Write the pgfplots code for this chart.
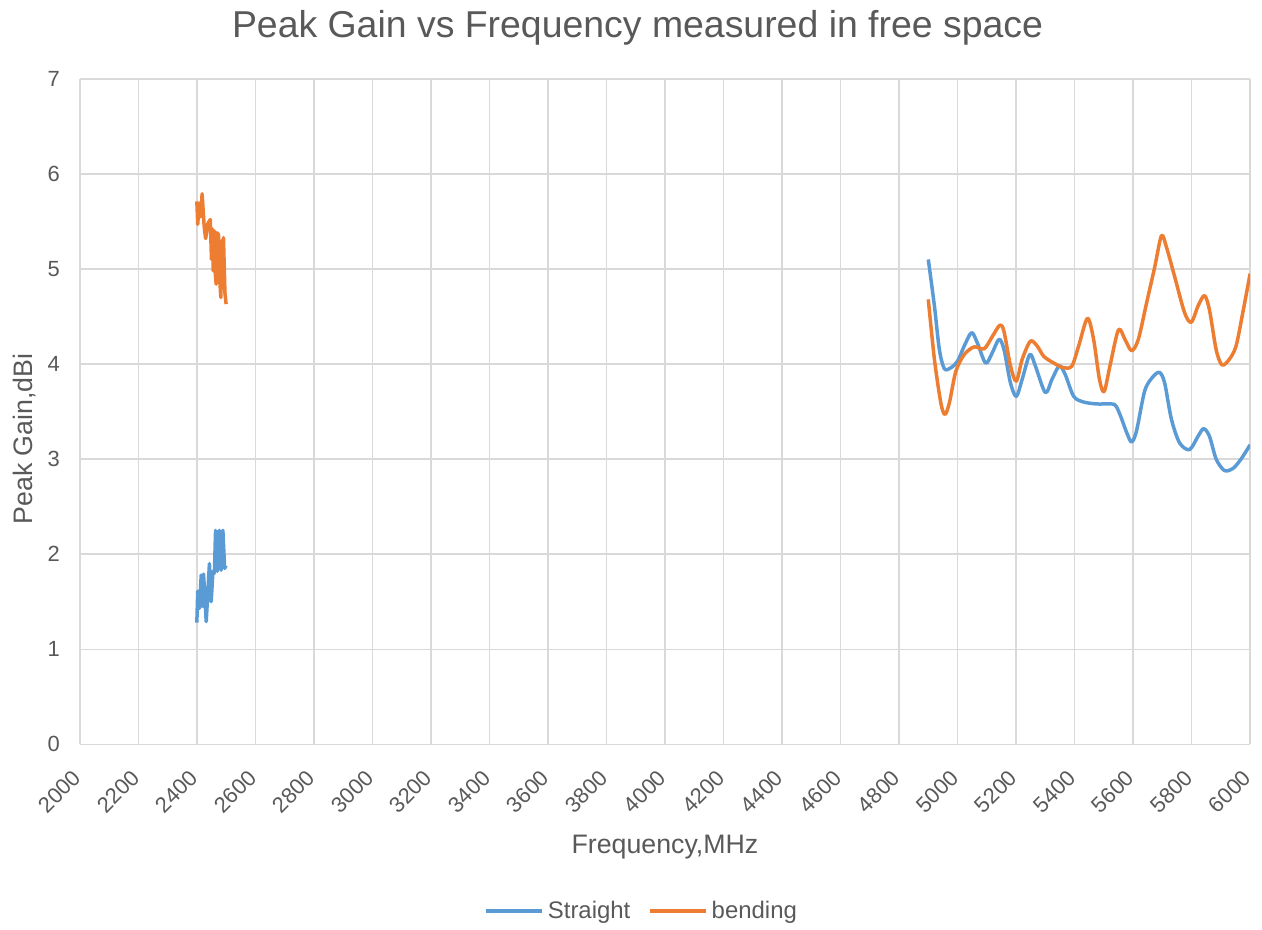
\documentclass[border=0pt]{standalone}
\usepackage{fontspec}
\setmainfont{Liberation Sans}
\usepackage{pgfplots}
\pgfplotsset{compat=1.18}
\definecolor{sblue}{HTML}{5B9BD5}
\definecolor{sorange}{HTML}{ED7D31}
\definecolor{txt}{HTML}{595959}
\definecolor{gridc}{HTML}{D9D9D9}
\begin{document}
\begin{tikzpicture}
\begin{axis}[
  name=ax,
  scale only axis,
  width=586.5pt, height=333.5pt,
  xmin=2000, xmax=6000, ymin=0, ymax=7,
  xtick={2000,2200,...,6000}, ytick={0,1,...,7},
  grid=major,
  major grid style={gridc, line width=0.7pt},
  axis line style={draw=none},
  tick style={draw=none},
  /pgf/number format/assume math mode=true,
  /pgf/number format/1000 sep={},
  ticklabel style={font=\fontsize{11}{13}\selectfont, text=txt},
  x tick label style={yshift=-12.5pt, xshift=1pt, rotate=45, anchor=east},
  y tick label style={xshift=-6.5pt},
  xlabel={Frequency,MHz},
  ylabel={Peak Gain,dBi},
  label style={font=\fontsize{13.4}{15}\selectfont, text=txt},
  xlabel style={at={(axis description cs:0.5,0)}, anchor=center, yshift=-51.5pt},
  ylabel style={at={(axis description cs:0,0.5)}, anchor=center, xshift=-13.75pt, yshift=27.5pt},
  legend style={at={(axis description cs:0.481,-0.2505)}, anchor=center, draw=none, fill=none,
    font=\fontsize{12}{14}\selectfont, text=txt, legend columns=2,
    /tikz/every even column/.append style={column sep=7pt}},
  legend image code/.code={\draw[#1] (0pt,0pt) -- (28pt,0pt);},
  every axis plot/.append style={line width=1.75pt, line join=round},
]
\addplot[sblue, smooth, tension=0.5] coordinates {
(4900,5.10) (4921,4.61) (4938,4.15) (4955,3.95) (4977,3.96) (5000,4.03) (5023,4.19)
(5048,4.33) (5068,4.22) (5096,4.01) (5119,4.12) (5142,4.26) (5159,4.15) (5181,3.80)
(5201,3.66) (5221,3.84) (5247,4.10) (5266,3.98) (5300,3.70) (5323,3.84) (5348,3.98)
(5368,3.89) (5397,3.66) (5431,3.60) (5476,3.58) (5510,3.58) (5538,3.57) (5555,3.47)
(5578,3.28) (5595,3.18) (5612,3.30) (5640,3.72) (5669,3.87) (5691,3.91) (5708,3.80)
(5731,3.42) (5759,3.17) (5793,3.10) (5822,3.24) (5841,3.32) (5861,3.24) (5884,3.00)
(5912,2.88) (5941,2.90) (5969,3.00) (6000,3.15)
};
\addlegendentry{Straight}
\addplot[sorange, smooth, tension=0.5] coordinates {
(4900,4.68) (4921,4.05) (4943,3.59) (4957,3.47) (4972,3.59) (4994,3.92) (5023,4.10)
(5057,4.18) (5091,4.16) (5119,4.29) (5145,4.41) (5159,4.34) (5181,3.98) (5201,3.82)
(5221,4.05) (5249,4.24) (5272,4.19) (5295,4.08) (5329,4.01) (5363,3.96) (5391,3.98)
(5414,4.19) (5444,4.48) (5465,4.26) (5485,3.84) (5501,3.71) (5521,3.98) (5550,4.36)
(5572,4.26) (5595,4.14) (5618,4.26) (5646,4.64) (5674,5.02) (5697,5.35) (5714,5.23)
(5742,4.92) (5776,4.54) (5799,4.44) (5822,4.61) (5844,4.72) (5861,4.57) (5884,4.15)
(5904,3.99) (5929,4.05) (5952,4.19) (5975,4.54) (6000,4.95)
};
\addlegendentry{bending}
\addplot[sblue, forget plot] coordinates {
(2400,1.28) (2403,1.61) (2409,1.43) (2415,1.78) (2420,1.45) (2423,1.79) (2432,1.29)
(2443,1.90) (2449,1.50) (2455,1.82) (2460,1.80) (2464,2.25) (2470,1.82) (2477,2.25)
(2483,1.83) (2489,2.25) (2495,1.85) (2500,1.88)
};
\addplot[sorange, forget plot] coordinates {
(2400,5.71) (2403,5.47) (2408,5.69) (2413,5.55) (2418,5.79) (2425,5.45) (2430,5.32)
(2438,5.48) (2446,5.52) (2450,5.10) (2453,5.42) (2456,4.98) (2460,5.40) (2463,4.95)
(2466,4.84) (2470,5.38) (2474,5.36) (2478,4.90) (2482,4.70) (2486,5.30) (2489,4.80)
(2491,5.33) (2496,4.75) (2500,4.63)
};
\end{axis}
\node[font=\fontsize{18.75}{22}\selectfont, text=txt] at ([xshift=279.5pt,yshift=359pt]ax.south west) {Peak Gain vs Frequency measured in free space};
\path[use as bounding box] ([xshift=-40pt,yshift=-89pt]ax.south west) rectangle ([xshift=4.5pt,yshift=39.5pt]ax.north east);
\end{tikzpicture}
\end{document}
